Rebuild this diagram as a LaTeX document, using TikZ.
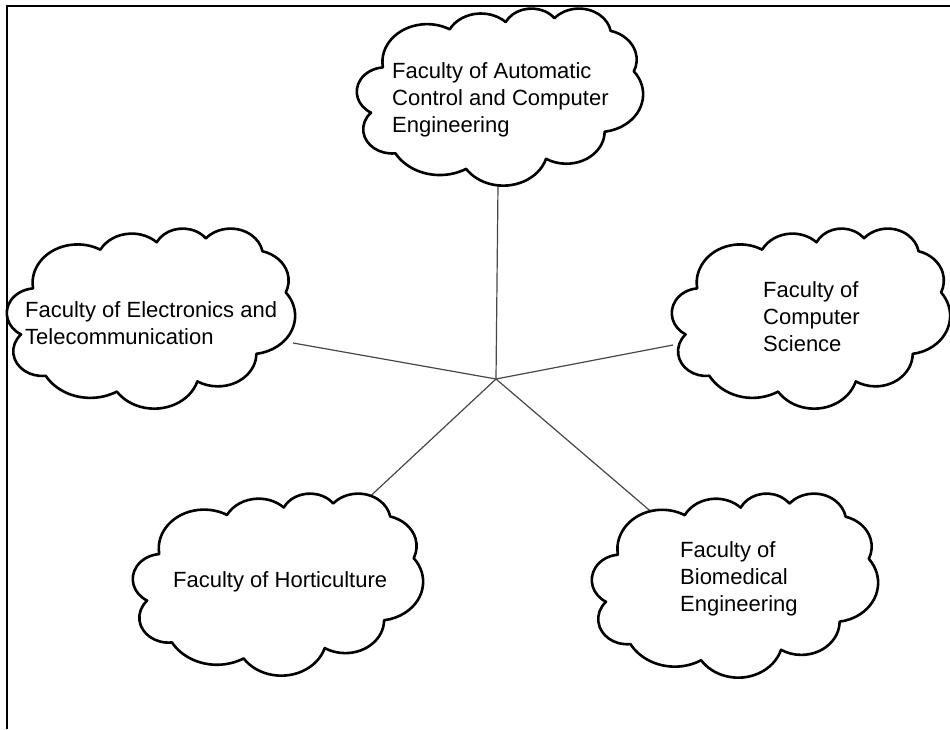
\documentclass[tikz,border=0pt]{standalone}
\usepackage{fontspec}
\setmainfont{Liberation Sans}
\begin{document}
\begin{tikzpicture}[x=1pt,y=1pt,
  cloudline/.style={draw=black,line width=2.6pt,fill=white,line join=round},
  link/.style={draw=black!72,line width=1.2pt},
  label/.style={inner sep=0pt,anchor=north west,align=left,
    font=\fontsize{22}{27}\selectfont},
  frame/.style={draw=black,line width=2.2pt}]
\useasboundingbox (0,0) rectangle (950,729);
\fill[white] (0,0) rectangle (950,729);

% cloud outline drawn in a 100 x 100 box (y down), scaled to the given box:
% #1 = left, #2 = top (picture coords), #3 = width, #4 = height
\newcommand\puffycloud[4]{%
  \begin{scope}[shift={(#1,#2)},xscale={#3/100},yscale={-#4/100}]
    \path[cloudline] (9.028,33.264)
      \foreach \wr/\hr/\st/\sw in {
        6753/9190/-190.4875/123.7805,
        5333/7267/-144.1024/89.9452,
        4365/5945/-145.8079/99.7230,
        4857/6595/-130.9861/117.2417,
        5333/7273/-78.7089/109.0269,
        6775/9220/-46.2673/130.2690,
        5785/7867/0.6250/114.0333,
        6752/9215/22.4516/115.1726,
        7720/10543/66.2426/75.7110,
        4360/5918/-274.9421/146.7356,
        4345/5945/-246.8285/152.5189}
      { arc[x radius={\wr/432*1pt}, y radius={\hr/432*1pt},
            start angle={atan2(\wr*sin(\st),\hr*cos(\st))},
            delta angle={mod(atan2(\wr*sin(\st+\sw),\hr*cos(\st+\sw))
                             -atan2(\wr*sin(\st),\hr*cos(\st))+720,360)}] }
      -- cycle;
  \end{scope}}

% frame (top and left edges)
\draw[frame] (7,0) -- (7,723) -- (950,723);

% hub and the points where the spokes meet the clouds
\coordinate (hub) at (496,350);
\coordinate (eTop) at (498,544);
\coordinate (eLeft) at (293,386);
\coordinate (eRight) at (673,384);
\coordinate (eBL) at (363,226);
\coordinate (eBR) at (655,214);

\draw[link] (hub) -- (eTop);
\draw[link] (hub) -- (eLeft);
\draw[link] (hub) -- (eRight);
\draw[link] (hub) -- (eBL);
\draw[link] (hub) -- (eBR);

% clouds
\puffycloud{357}{721}{286}{177}
\puffycloud{7}{501}{288}{180}
\puffycloud{672}{501}{278}{180}
\puffycloud{133}{236}{290}{182}
\puffycloud{592}{236}{286}{184}

% labels
\node[label] (acce) at (392,666.5) {Faculty of Automatic\\Control and Computer\\Engineering};
\node[label] (etc) at (25,427.5) {Faculty of Electronics and\\Telecommunication};
\node[label] (cs) at (763,447.5) {Faculty of\\Computer\\Science};
\node[label] (hort) at (173,157.5) {Faculty of Horticulture};
\node[label] (bme) at (680,187.5) {Faculty of\\Biomedical\\Engineering};
\end{tikzpicture}
\end{document}
